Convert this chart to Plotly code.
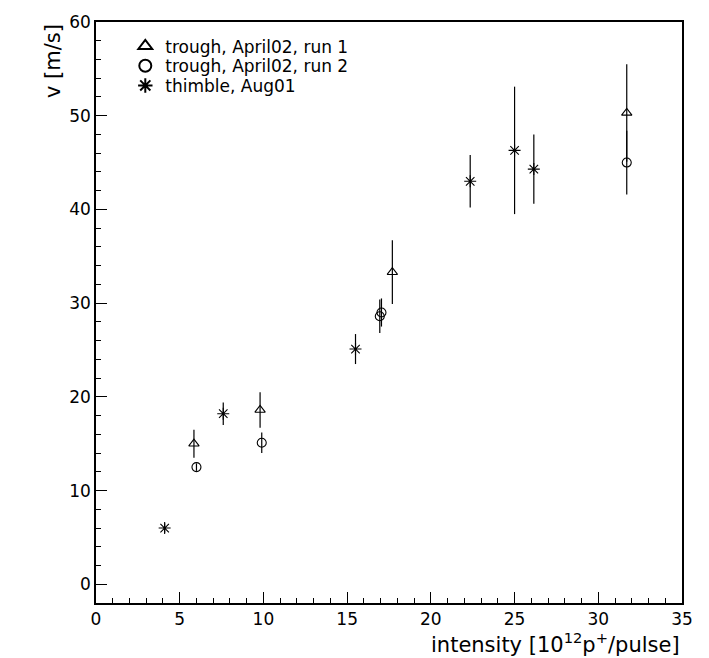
import plotly.graph_objects as go

# Data
run1_x = [5.85, 9.8, 17.7, 31.7]
run1_y = [15.0, 18.6, 33.3, 50.3]
run1_err = [1.5, 1.9, 3.4, 5.2]

run2_x = [6.0, 9.9, 16.95, 17.05, 31.7]
run2_y = [12.5, 15.1, 28.6, 29.0, 45.0]
run2_err = [0.4, 1.1, 1.8, 1.5, 3.4]

thim_x = [4.1, 7.6, 15.5, 22.35, 25.0, 26.15]
thim_y = [6.0, 18.2, 25.1, 43.0, 46.3, 44.3]
thim_err = [0.5, 1.2, 1.6, 2.8, 6.8, 3.7]

names = ["trough, April02, run 1", "trough, April02, run 2", "thimble, Aug01"]

FONT = "DejaVu Sans"

fig = go.Figure()

def add(x, y, e, name, symbol, size, legend):
    fig.add_trace(go.Scatter(
        x=x, y=y, mode="markers", name=name, legend=legend,
        marker=dict(symbol=symbol, size=size, color="black",
                    line=dict(color="black", width=1.1)),
        error_y=dict(type="data", array=e, visible=True, width=0,
                     thickness=1.2, color="black"),
    ))

add(run1_x, run1_y, run1_err, names[0], "triangle-up-open", 9, "legend")
add(run2_x, run2_y, run2_err, names[1], "circle-open", 9, "legend2")
add(thim_x, thim_y, thim_err, names[2], "asterisk-open", 10, "legend3")

axis_common = dict(
    showline=True, linecolor="black", linewidth=1.5, mirror=True,
    ticks="inside", tickcolor="black", tickwidth=1, ticklen=11,
    showgrid=False, zeroline=False,
    tickfont=dict(family=FONT, size=17, color="black"),
)

fig.update_xaxes(range=[0, 35], dtick=5, tick0=0,
                 minor=dict(dtick=1, ticks="inside", ticklen=5, tickcolor="black"),
                 **axis_common)
fig.update_yaxes(range=[-2, 60], dtick=10, tick0=0,
                 minor=dict(dtick=2, ticks="inside", ticklen=5, tickcolor="black"),
                 **axis_common)

fig.add_annotation(xref="paper", yref="paper", x=1, y=0, xanchor="right", yanchor="top",
                   yshift=-24, showarrow=False,
                   text="intensity [10<sup>12</sup>p<sup>+</sup>/pulse]",
                   font=dict(family=FONT, size=21, color="black"))
fig.add_annotation(xref="paper", yref="paper", x=0, y=1, xanchor="right", yanchor="top",
                   xshift=-29, showarrow=False, textangle=-90,
                   text="v [m/s]",
                   font=dict(family=FONT, size=21, color="black"))

leg = dict(x=0.05, xanchor="left", yanchor="middle",
           bgcolor="rgba(0,0,0,0)", borderwidth=0,
           font=dict(family=FONT, size=17, color="black"),
           itemsizing="constant")

fig.update_layout(
    width=709, height=658,
    margin=dict(l=96, r=27, t=17, b=55),
    plot_bgcolor="white", paper_bgcolor="white",
    showlegend=True,
    legend=dict(leg, y=0.958),
    legend2=dict(leg, y=0.924),
    legend3=dict(leg, y=0.890),
)

fig.write_html("out.html")
